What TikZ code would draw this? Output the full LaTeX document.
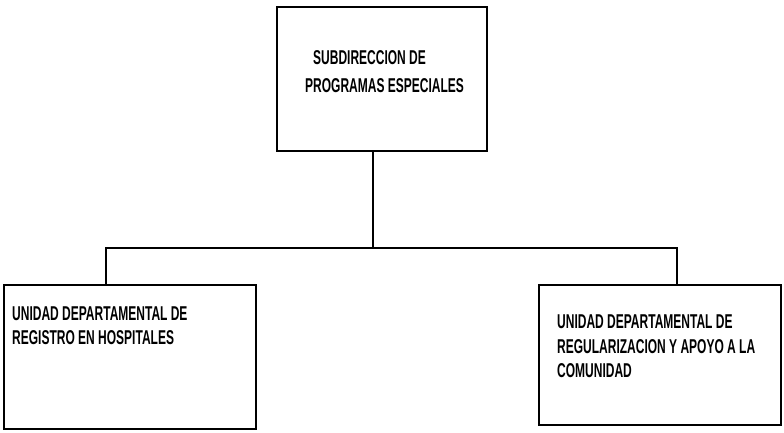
\documentclass[tikz,border=0pt]{standalone}
\usepackage{fontspec}
\setmainfont[FakeStretch=0.6]{Liberation Sans}
\begin{document}
\begin{tikzpicture}[x=1pt,y=-1pt,
  box/.style={draw,line width=1.2pt,rectangle,inner sep=0pt},
  lbl/.style={anchor=west,inner sep=0pt,font=\fontsize{20}{24}\selectfont\bfseries},
  conn/.style={line width=1.1pt}]
\useasboundingbox (0,0) rectangle (784,433);
% boxes
\node[box,minimum width=210pt,minimum height=144pt] (top) at (382,79) {};
\node[box,minimum width=252pt,minimum height=144pt] (lb) at (130,357) {};
\node[box,minimum width=242pt,minimum height=140pt] (rb) at (660,355) {};
% texts
\node[lbl] (t1) at (313,58) {SUBDIRECCION DE};
\node[lbl] (t2) at (305,86) {PROGRAMAS ESPECIALES};
\node[lbl] (l1) at (12,314) {UNIDAD DEPARTAMENTAL DE};
\node[lbl] (l2) at (12,338) {REGISTRO EN HOSPITALES};
\node[lbl] (r1) at (557,322) {UNIDAD DEPARTAMENTAL DE};
\node[lbl] (r2) at (557,347) {REGULARIZACION Y APOYO A LA};
\node[lbl] (r3) at (557,371) {COMUNIDAD};
% connectors
\coordinate (j) at (373,248);
\coordinate (jl) at (106,248);
\coordinate (jr) at (677,248);
\draw[conn] (top.south -| j) -- (j);
\draw[conn] (lb.north -| jl) -- (jl) -- (jr) -- (rb.north -| jr);
\end{tikzpicture}
\end{document}
